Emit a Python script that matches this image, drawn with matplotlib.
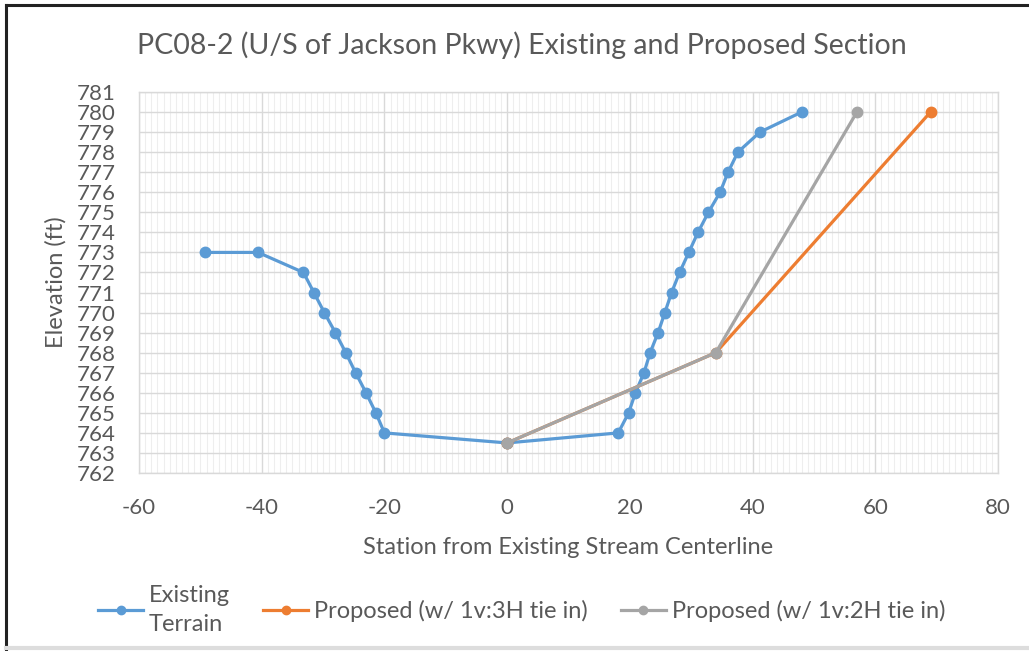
import matplotlib
matplotlib.use("Agg")
import matplotlib.pyplot as plt
from matplotlib.lines import Line2D
from matplotlib.ticker import MultipleLocator

plt.rcParams['font.family'] = ['Lato', 'DejaVu Sans']
plt.rcParams['axes.unicode_minus'] = False

# Surveyed cross-section points
existing_x = [-49.2, -40.6, -33.2, -31.5, -29.8, -28.0, -26.3, -24.7, -23.0, -21.4, -20.0,
              0.0, 18.1, 19.8, 20.9, 22.3, 23.3, 24.6, 25.7, 26.8, 28.1, 29.6, 31.1,
              32.8, 34.7, 36.0, 37.6, 41.2, 48.0]
existing_y = [773, 773, 772, 771, 770, 769, 768, 767, 766, 765, 764,
              763.5, 764, 765, 766, 767, 768, 769, 770, 771, 772, 773, 774,
              775, 776, 777, 778, 779, 780]

prop3h_x = [0, 34, 69]
prop3h_y = [763.5, 768, 780]

prop2h_x = [0, 34, 57]
prop2h_y = [763.5, 768, 780]

labels = ["Existing\nTerrain", "Proposed (w/ 1v:3H tie in)", "Proposed (w/ 1v:2H tie in)"]
colors = ["#5B9BD5", "#ED7D31", "#A5A5A5"]
text_color = "#595959"

fig = plt.figure(figsize=(10.29, 6.51), dpi=100)
ax = fig.add_axes([0.1351, 0.2734, 0.9699 - 0.1351, 0.8587 - 0.2734])

style = dict(linewidth=2.3, marker='o', markersize=7.5)
ax.plot(existing_x, existing_y, color=colors[0], label=labels[0], **style)
ax.plot(prop3h_x, prop3h_y, color=colors[1], label=labels[1], **style)
ax.plot(prop2h_x, prop2h_y, color=colors[2], label=labels[2], **style)

ax.set_xlim(-60, 80)
ax.set_ylim(762, 781)
ax.xaxis.set_major_locator(MultipleLocator(20))
ax.xaxis.set_minor_locator(MultipleLocator(1))
ax.yaxis.set_major_locator(MultipleLocator(1))

ax.grid(which='major', color='#D9D9D9', linewidth=1.0)
ax.grid(which='minor', axis='x', color='#EEEEEE', linewidth=0.8)
ax.set_axisbelow(True)
for s in ax.spines.values():
    s.set_color('#D9D9D9')
    s.set_linewidth(1.0)

ax.tick_params(which='both', length=0, colors=text_color, labelsize=16)
ax.tick_params(axis='x', pad=18)
ax.tick_params(axis='y', pad=17)

ax.set_xlabel("Station from Existing Stream Centerline", fontsize=17, color=text_color, labelpad=14)
ax.set_ylabel("Elevation (ft)", fontsize=17, color=text_color, labelpad=7)
fig.text(0.507, 0.931, "PC08-2 (U/S of Jackson Pkwy) Existing and Proposed Section",
         ha='center', va='center', fontsize=20.5, color=text_color)

leg = fig.legend(loc='center', bbox_to_anchor=(0.507, 0.063), ncol=3, frameon=False,
                 fontsize=17, labelcolor=text_color, handlelength=1.9,
                 columnspacing=1.4, handletextpad=0.25, markerscale=0.8)
leg.get_texts()[0].set_linespacing(1.45)

# Outer frame of the chart area
fig.add_artist(Line2D([6 / 1029, 1], [1 - 5 / 651, 1 - 5 / 651], transform=fig.transFigure,
                      color='#222222', linewidth=2.2))
fig.add_artist(Line2D([6 / 1029, 6 / 1029], [0, 1 - 5 / 651], transform=fig.transFigure,
                      color='#222222', linewidth=2.2))
fig.add_artist(Line2D([6 / 1029, 1], [1 - 648 / 651, 1 - 648 / 651], transform=fig.transFigure,
                      color='#DDDDDD', linewidth=3))

fig.savefig("out.png", dpi=100)
